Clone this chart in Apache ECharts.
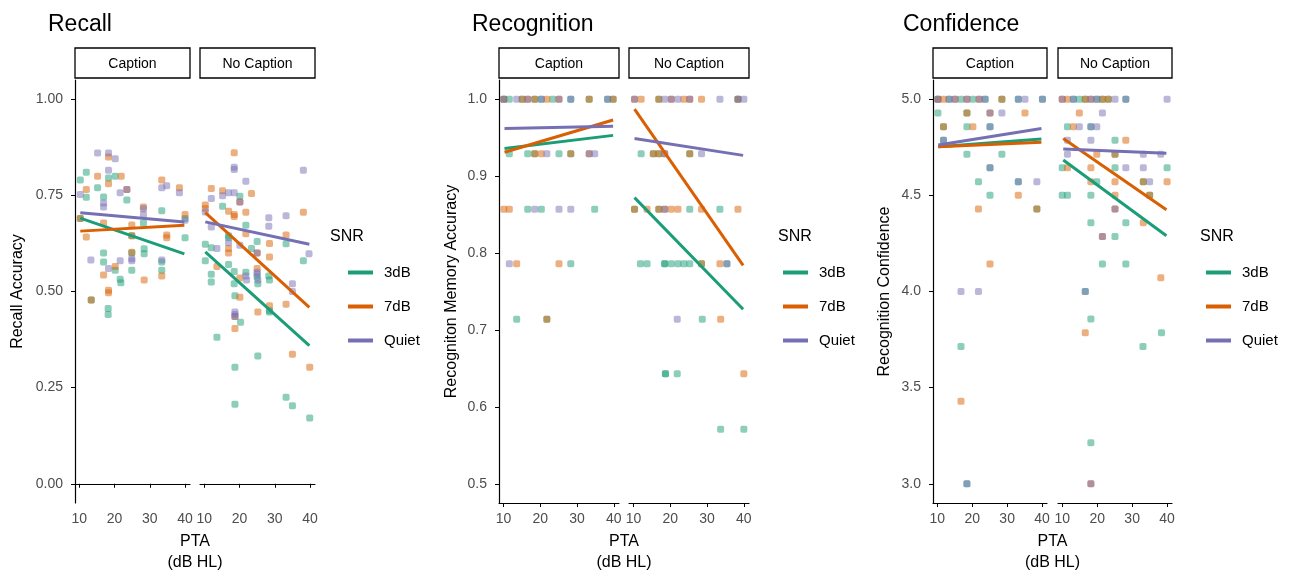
<!DOCTYPE html>
<html lang="en">
<head>
    <meta charset="UTF-8" />
    <title>SNR x PTA</title>
    <script src="https://cdn.jsdelivr.net/npm/echarts@6/dist/echarts.min.js"></script>
    <style>
        html, body { margin: 0; padding: 0; background: #fff; }
        #chart { width: 1297px; height: 574px; }
    </style>
</head>
<body>
    <div id="chart"></div>
    <script>
        // SNR groups (ggplot Dark2)
        var snrNames = ["3dB", "7dB", "Quiet"];
        var snrColors = ["#1B9E77", "#D95F02", "#7570B3"];
        var facetNames = ["Caption", "No Caption"];
        var ptaTicks = [10, 20, 30, 40];

        // --- Recall: [PTA, accuracy]
        var recallCap3 = [[10.3,0.79],[12,0.81],[12,0.745],[10.3,0.69],[15.2,0.77],[18.3,0.795],[20.2,0.80],[16.9,0.746],[23.5,0.738],[28.2,0.678],[24.9,0.645],[24.9,0.60],[24.9,0.555],[28.4,0.611],[28.4,0.598],[33.4,0.71],[33.4,0.577],[33.4,0.555],[40,0.69],[40,0.64],[16.9,0.60],[16.9,0.577],[20.2,0.555],[21.6,0.532],[13.4,0.478],[18.2,0.456],[18.2,0.44],[21.8,0.523]];
        var recallCap7 = [[12,0.765],[10.3,0.69],[12,0.642],[15.2,0.80],[18.3,0.85],[18.3,0.78],[21.9,0.80],[16.9,0.678],[28.2,0.72],[24.9,0.673],[24.9,0.645],[24.9,0.602],[28.4,0.53],[33.4,0.79],[34.8,0.647],[34.8,0.64],[33.4,0.54],[38.4,0.77],[40,0.70],[20.2,0.565],[16.9,0.543],[18.3,0.503],[18.3,0.497],[13.4,0.478],[23.5,0.765]];
        var recallCapQ = [[10.3,0.752],[15.2,0.86],[18.3,0.86],[20.2,0.845],[18.3,0.815],[16.9,0.73],[16.9,0.72],[21.6,0.757],[23.5,0.765],[28.2,0.715],[28.2,0.70],[24.9,0.585],[24.9,0.58],[33.4,0.77],[34.8,0.775],[33.4,0.582],[38.4,0.757],[40,0.685],[13.3,0.582],[18.3,0.56],[21.6,0.58]];
        var recallNo3 = [[20.1,0.748],[15.2,0.722],[21.8,0.672],[10.3,0.623],[12,0.614],[16.9,0.645],[16.9,0.64],[23.4,0.612],[25,0.63],[33.2,0.624],[38.1,0.58],[10.3,0.58],[12,0.545],[16.9,0.57],[18.5,0.552],[18.5,0.52],[21.8,0.55],[25,0.538],[28.3,0.54],[12,0.525],[25.2,0.52],[28.5,0.53],[18.7,0.489],[28.5,0.45],[28.5,0.447],[20.3,0.42],[13.6,0.381],[25.2,0.332],[18.7,0.303],[18.7,0.207],[33.2,0.225],[35,0.203],[39.9,0.171]];
        var recallNo7 = [[18.5,0.861],[12,0.768],[15.2,0.762],[23.4,0.755],[10.3,0.725],[10.3,0.716],[16.9,0.709],[18.5,0.70],[18.5,0.695],[20.1,0.733],[21.8,0.706],[38.1,0.706],[21.8,0.65],[16.9,0.612],[16.9,0.60],[28.5,0.625],[25,0.60],[28.5,0.59],[33.2,0.647],[13.6,0.565],[20.1,0.535],[25,0.56],[20.1,0.485],[28.5,0.463],[33.2,0.467],[25.2,0.447],[18.7,0.435],[18.7,0.404],[35,0.337],[39.9,0.303]];
        var recallNoQ = [[18.5,0.823],[18.5,0.817],[38.1,0.815],[21.8,0.787],[12,0.742],[15.2,0.749],[16.9,0.757],[18.5,0.757],[10.3,0.707],[20.1,0.733],[28.3,0.692],[28.3,0.67],[33.2,0.697],[12,0.668],[16.9,0.627],[20.1,0.62],[13.6,0.612],[25,0.60],[39.7,0.598],[21.8,0.54],[25,0.55],[25,0.545],[35,0.52],[22,0.53],[25.2,0.53],[35,0.50],[18.7,0.447],[18.7,0.44],[18.7,0.435]];

        // --- Recognition: [PTA, memory accuracy]
        var recogCap3 = [[10.1,1],[11.6,1],[15.1,1],[18.5,1],[20.3,1],[23.4,1],[28.3,1],[33.3,1],[38.3,1],[39.8,1],[11.6,0.929],[16.6,0.929],[18.5,0.929],[25.1,0.929],[28.3,0.929],[16.6,0.857],[20.3,0.857],[34.8,0.857],[28.3,0.786],[13.6,0.714],[21.8,0.714]];
        var recogCap7 = [[10.1,1],[15.1,1],[16.6,1],[18.5,1],[21.8,1],[25.1,1],[33.3,1],[39.8,1],[18.5,0.929],[20.3,0.929],[28.3,0.929],[33.3,0.929],[10.1,0.857],[11.6,0.857],[13.6,0.786],[25.1,0.786],[21.8,0.714]];
        var recogCapQ = [[10.1,1],[13.6,1],[16.6,1],[20.3,1],[25.1,1],[28.3,1],[38.3,1],[21.8,0.929],[33.3,0.929],[34.8,0.929],[18.5,0.857],[25.1,0.857],[28.3,0.857],[11.6,0.786]];
        var recogNo3 = [[16.9,1],[38.4,1],[12.1,0.929],[15.4,0.929],[16.9,0.929],[25.3,0.929],[10.3,0.857],[16.9,0.857],[25.3,0.857],[33.5,0.857],[11.9,0.786],[13.7,0.786],[18.5,0.786],[18.5,0.786],[20.3,0.786],[22.1,0.786],[23.7,0.786],[25.3,0.786],[28.5,0.786],[35.4,0.786],[28.7,0.714],[18.7,0.643],[18.7,0.643],[21.9,0.643],[33.7,0.571],[40,0.571]];
        var recogNo7 = [[10.3,1],[12.1,1],[16.9,1],[20.3,1],[23.7,1],[25.3,1],[28.5,1],[38.4,1],[15.4,0.929],[16.9,0.929],[18.5,0.929],[25.3,0.929],[10.3,0.857],[13.7,0.857],[16.9,0.857],[18.5,0.857],[20.3,0.857],[22.1,0.857],[28.5,0.857],[38.4,0.857],[28.5,0.786],[33.5,0.786],[33.7,0.714],[40,0.643]];
        var recogNoQ = [[10.3,1],[18.5,1],[20.3,1],[22.1,1],[25.3,1],[33.5,1],[38.4,1],[40,1],[18.5,0.929],[28.5,0.929],[18.5,0.857],[35.4,0.786],[21.9,0.714]];

        // --- Confidence: [PTA, recognition confidence]
        var confCap3 = [[10.2,5],[13.4,5],[16.8,5],[20.2,5],[23.7,5],[28.5,5],[33.2,5],[40.1,5],[10.2,4.929],[18.5,4.929],[11.8,4.857],[18.5,4.857],[25.1,4.857],[11.8,4.786],[18.5,4.714],[28.5,4.714],[25.1,4.643],[21.8,4.571],[33.2,4.571],[25.1,4.5],[38.5,4.429],[16.8,3.714],[18.5,3.0]];
        var confCap7 = [[10.2,5],[11.8,5],[15.1,5],[18.5,5],[22,5],[28.5,5],[18.5,4.929],[25.1,4.929],[35.1,4.929],[11.8,4.857],[20.2,4.857],[33.2,4.5],[21.8,4.429],[38.5,4.429],[25.1,4.143],[16.8,3.429]];
        var confCapQ = [[10.2,5],[13.4,5],[15.1,5],[18.5,5],[22,5],[23.7,5],[33.2,5],[35.1,5],[40.1,5],[25.1,4.929],[28.5,4.929],[25.1,4.857],[11.8,4.786],[25.1,4.643],[33.2,4.571],[38.5,4.571],[16.8,4.0],[21.8,4.0],[18.5,3.0]];
        var confNo3 = [[13.2,5],[14.9,5],[16.6,5],[19.9,5],[21.5,5],[23.2,5],[28.2,5],[11.5,4.857],[18.2,4.857],[25.1,4.786],[25.1,4.714],[10,4.643],[25.1,4.643],[40,4.643],[19.9,4.571],[33.2,4.571],[10,4.5],[11.5,4.5],[18.2,4.5],[35,4.5],[18.2,4.357],[28.2,4.357],[25.1,4.286],[21.5,4.143],[28.2,4.143],[16.6,4.0],[18.2,3.857],[33.1,3.714],[38.4,3.786],[18.2,3.214]];
        var confNo7 = [[10,5],[11.5,5],[16.6,5],[18.2,5],[21.5,5],[23.2,5],[14.9,4.929],[13.2,4.857],[28.2,4.786],[19.9,4.714],[25.1,4.714],[11.5,4.643],[18.2,4.643],[18.2,4.571],[25.1,4.571],[33.2,4.571],[40,4.571],[25.1,4.5],[35,4.5],[25.1,4.429],[33.2,4.357],[21.5,4.286],[38.2,4.071],[16.6,3.786],[18.2,3.0]];
        var confNoQ = [[10,5],[13.2,5],[18.2,5],[19.9,5],[25.1,5],[28.2,5],[40,5],[21.5,4.929],[14.9,4.857],[18.2,4.857],[19.9,4.857],[11.5,4.786],[18.2,4.786],[11.5,4.714],[33.2,4.714],[38.2,4.714],[28.2,4.643],[33.2,4.643],[35,4.571],[25.1,4.429],[21.5,4.286],[16.6,4.0],[18.2,3.0]];

        // linear fits: [value at PTA start, value at PTA end] for 3dB, 7dB, Quiet
        var fitX = [10.3, 39.8];
        var fitRecallCap = [[0.691, 0.598], [0.657, 0.672], [0.705, 0.681]];
        var fitRecallNo = [[0.603, 0.359], [0.705, 0.459], [0.681, 0.623]];
        var fitRecogCap = [[0.936, 0.953], [0.931, 0.973], [0.962, 0.965]];
        var fitRecogNo = [[0.872, 0.727], [0.987, 0.784], [0.949, 0.927]];
        var fitConfCap = [[4.753, 4.793], [4.753, 4.776], [4.762, 4.848]];
        var fitConfNo = [[4.684, 4.29], [4.796, 4.425], [4.741, 4.719]];

        var recallTicks = [0, 0.25, 0.5, 0.75, 1];
        var recogTicks = [0.5, 0.6, 0.7, 0.8, 0.9, 1.0];
        var confTicks = [3.0, 3.5, 4.0, 4.5, 5.0];

        var FONT = "'Liberation Sans', Arial, sans-serif";

        var panels = [
            {
                title: "Recall", titleX: 48, yName: "Recall Accuracy", nameGap: 49,
                ymin: -0.05, ymax: 1.05, ticks: recallTicks, dec: 2,
                lefts: [75, 200], width: 115, legendX: 348, snrX: 330,
                points: [[recallCap3, recallCap7, recallCapQ], [recallNo3, recallNo7, recallNoQ]],
                fits: [fitRecallCap, fitRecallNo]
            },
            {
                title: "Recognition", titleX: 472, yName: "Recogniton Memory Accuracy", nameGap: 39,
                ymin: 0.475, ymax: 1.025, ticks: recogTicks, dec: 1,
                lefts: [499, 629], width: 120, legendX: 783, snrX: 778,
                points: [[recogCap3, recogCap7, recogCapQ], [recogNo3, recogNo7, recogNoQ]],
                fits: [fitRecogCap, fitRecogNo]
            },
            {
                title: "Confidence", titleX: 903, yName: "Recognition Confidence", nameGap: 40,
                ymin: 2.9, ymax: 5.1, ticks: confTicks, dec: 1,
                lefts: [933, 1058], width: 114, legendX: 1206, snrX: 1200,
                points: [[confCap3, confCap7, confCapQ], [confNo3, confNo7, confNoQ]],
                fits: [fitConfCap, fitConfNo]
            }
        ];

        var gridTop = 80, gridH = 423;
        var grids = [], xAxes = [], yAxes = [], lineSeries = [], pointSeries = [];
        var titles = [], legends = [], graphics = [];

        panels.forEach(function (p) {
            titles.push({
                text: p.title, left: p.titleX, top: 13, padding: 0,
                textStyle: { fontSize: 23, fontWeight: "normal", color: "#000", fontFamily: FONT }
            });

            for (var f = 0; f < 2; f++) {
                var idx = grids.length;
                var left = p.lefts[f];
                grids.push({ left: left, top: gridTop, width: p.width, height: gridH });

                xAxes.push({
                    type: "value", gridIndex: idx, min: 8.8, max: 41.4,
                    axisLine: { show: true, lineStyle: { color: "#000", width: 1.2 } },
                    axisTick: { show: true, customValues: ptaTicks, length: 4, lineStyle: { color: "#000", width: 1 } },
                    axisLabel: { customValues: ptaTicks, color: "#4D4D4D", fontSize: 14, margin: 9, fontFamily: FONT },
                    splitLine: { show: false }
                });

                yAxes.push({
                    type: "value", gridIndex: idx, min: p.ymin, max: p.ymax, show: f === 0,
                    name: f === 0 ? p.yName : "", nameLocation: "middle", nameGap: p.nameGap,
                    nameTextStyle: { fontSize: 16, color: "#000", fontFamily: FONT },
                    axisLine: { show: true, lineStyle: { color: "#000", width: 1.2 } },
                    axisTick: { show: true, customValues: p.ticks, length: 4, lineStyle: { color: "#000", width: 1 } },
                    axisLabel: {
                        customValues: p.ticks, color: "#4D4D4D", fontSize: 14, margin: 12, fontFamily: FONT,
                        formatter: (function (d) { return function (v) { return v.toFixed(d); }; })(p.dec)
                    },
                    splitLine: { show: false }
                });

                // strip label
                graphics.push({
                    type: "rect", shape: { x: left, y: 48, width: p.width, height: 30 },
                    style: { fill: "#fff", stroke: "#000", lineWidth: 1.3 }
                });
                graphics.push({
                    type: "text", x: left + p.width / 2, y: 64,
                    style: { text: facetNames[f], font: "14px " + FONT, fill: "#000",
                        textAlign: "center", textVerticalAlign: "middle", align: "center", verticalAlign: "middle" }
                });

                for (var s = 0; s < 3; s++) {
                    lineSeries.push({
                        type: "line", name: snrNames[s], xAxisIndex: idx, yAxisIndex: idx,
                        data: [[fitX[0], p.fits[f][s][0]], [fitX[1], p.fits[f][s][1]]],
                        symbol: "none", showSymbol: false, z: 3,
                        lineStyle: { color: snrColors[s], width: 3 },
                        itemStyle: { color: snrColors[s] }
                    });
                    pointSeries.push({
                        type: "scatter", name: snrNames[s], xAxisIndex: idx, yAxisIndex: idx,
                        data: p.points[f][s], symbol: "roundRect", symbolSize: 7, z: 2,
                        itemStyle: { color: snrColors[s], opacity: 0.5 }
                    });
                }
            }

            // x axis title, centred under both facets
            var cx = (p.lefts[0] + p.lefts[1] + p.width) / 2;
            ["PTA", "(dB HL)"].forEach(function (t, i) {
                graphics.push({
                    type: "text", x: cx, y: 542 + i * 21,
                    style: { text: t, font: "16px " + FONT, fill: "#000",
                        textAlign: "center", textVerticalAlign: "middle", align: "center", verticalAlign: "middle" }
                });
            });

            // legend title
            graphics.push({
                type: "text", x: p.snrX, y: 237,
                style: { text: "SNR", font: "16px " + FONT, fill: "#000",
                    textAlign: "left", textVerticalAlign: "middle", align: "left", verticalAlign: "middle" }
            });

            legends.push({
                data: snrNames, orient: "vertical", left: p.legendX, top: 265, padding: 0,
                icon: "rect", itemWidth: 25, itemHeight: 4, itemGap: 19, selectedMode: false,
                textStyle: { fontSize: 15, color: "#000", fontFamily: FONT, padding: [0, 0, 0, 6] }
            });
        });

        var chart = echarts.init(document.getElementById("chart"));
        chart.setOption({
            animation: false,
            backgroundColor: "#fff",
            title: titles,
            legend: legends,
            grid: grids,
            xAxis: xAxes,
            yAxis: yAxes,
            graphic: graphics,
            series: lineSeries.concat(pointSeries)
        });
    </script>
</body>
</html>
